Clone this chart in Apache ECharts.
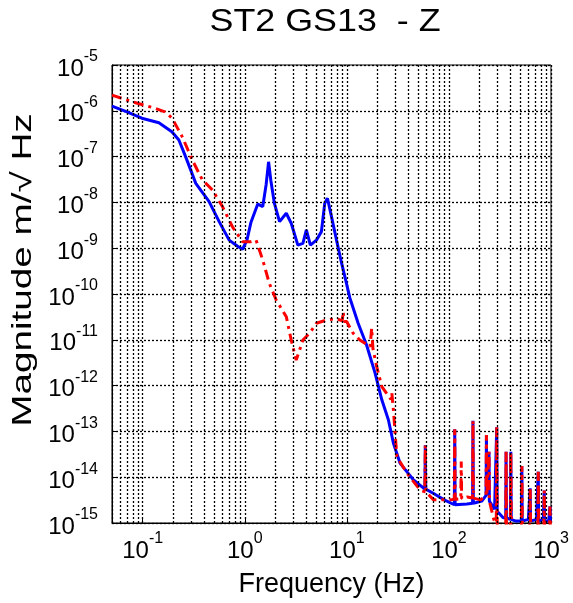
<!DOCTYPE html>
<html>
<head>
<meta charset="utf-8">
<script src="https://cdn.jsdelivr.net/npm/echarts@6/dist/echarts.min.js"></script>
<style>
  html, body { margin: 0; padding: 0; background: #fff; }
  #chart { width: 573px; height: 603px; }
</style>
</head>
<body>
<div id="chart"></div>
<script>
// 蓝线 (实线) 频率 / 幅值
const blueFreq = [
  0.05, 0.07, 0.098, 0.144, 0.193, 0.226, 0.263, 0.331, 0.447, 0.561, 0.703, 0.85, 0.95,
  1.05, 1.15, 1.34, 1.5, 1.62, 1.71, 1.8, 1.95, 2.19, 2.55, 2.85, 3.31, 3.71, 4.01, 4.39,
  5.03, 5.63, 6.07, 6.45, 7.07, 7.92, 8.88, 9.56, 10.7, 12.9, 15.6, 18.9, 22, 25.5, 28.6,
  33.3, 45, 58.1, 58.7, 59.3, 70.8, 90, 113, 114, 115, 150, 170.5, 172, 173.5, 210,
  231, 233, 235, 245, 247, 249, 280, 291, 294, 297, 340, 360, 363, 366, 400, 404, 408,
  450, 513, 518, 523, 600, 619, 625, 631, 720, 743, 750, 757, 840, 851, 859, 867,
  950, 968, 977, 986, 1000
];
const blueMag = [
  1.27e-6, 9.5e-7, 6.9e-7, 5.5e-7, 3.5e-7, 2.3e-7, 1.0e-7, 2.6e-8, 1.04e-8, 3.8e-9, 1.5e-9, 1.1e-9, 9.5e-10,
  1.5e-9, 3.7e-9, 9.2e-9, 8.1e-9, 2.5e-8, 7.7e-8, 3e-8, 9.5e-9, 3.8e-9, 5.8e-9, 3.5e-9, 1.17e-9, 1.28e-9, 2.5e-9, 1.17e-9,
  1.5e-9, 2.3e-9, 9.5e-9, 1.23e-8, 4.9e-9, 1.5e-9, 4.7e-10, 2.4e-10, 8.2e-11, 2.3e-11, 7.7e-12, 1.87e-12, 4.9e-13, 1.8e-13, 5.5e-14,
  2.0e-14, 8.7e-15, 5.5e-15, 5e-14, 5.5e-15, 4.4e-15, 3.2e-15, 2.5e-15, 1.11e-13, 2.5e-15, 2.6e-15, 2.7e-15, 1.71e-13, 2.7e-15, 3e-15,
  4e-15, 8.3e-14, 4e-15, 4e-15, 3.6e-14, 3e-15, 2e-15, 2e-15, 1.23e-13, 1.8e-15, 1.3e-15, 1.3e-15, 3.6e-14, 1.3e-15, 1.2e-15, 3.6e-14, 1.2e-15,
  1.1e-15, 1.1e-15, 1.76e-14, 1.1e-15, 1.2e-15, 1.2e-15, 5.7e-15, 1.1e-15, 1.2e-15, 1.2e-15, 1.32e-14, 1.1e-15, 1.2e-15, 1.2e-15, 5.1e-15, 1.1e-15,
  1.1e-15, 1.1e-15, 2.3e-15, 1.1e-15, 1.1e-15
];

// 红线 (点划线) 频率 / 幅值
const redFreq = [
  0.05, 0.0785, 0.133, 0.165, 0.194, 0.244, 0.306, 0.384, 0.482, 0.604, 0.759, 0.951, 1.15,
  1.29, 1.5, 1.74, 2.03, 2.55, 2.85, 3.19, 3.71, 4.32, 5.03, 6.3, 7.92, 9.0, 9.2, 9.4, 9.94,
  11.5, 13.4, 16.9, 17.5, 18, 19.6, 22, 27, 27.6, 28.6, 30.9, 38.8, 52.4, 58.1, 58.7, 59.3, 70.8,
  103, 113, 114, 115, 130.7, 132, 133.3, 151, 170.5, 172, 173.5, 204, 231, 233, 235, 245, 247, 249,
  276, 291, 294, 297, 360, 363, 366, 400, 404, 408, 513, 518, 523, 619, 625, 631,
  743, 750, 757, 851, 859, 867, 968, 977, 986, 1000
];
const redMag = [
  2.2e-6, 1.58e-6, 1.13e-6, 9.5e-7, 6.9e-7, 2.7e-7, 8.4e-8, 3.1e-8, 1.87e-8, 8.1e-9, 2.9e-9, 1.39e-9, 1.39e-9,
  1.5e-9, 5.5e-10, 1.7e-10, 7.4e-11, 3.2e-11, 9.9e-12, 3.6e-12, 9.9e-12, 1.39e-11, 2.3e-11, 2.7e-11, 2.9e-11, 2.6e-11, 4.1e-11, 2.5e-11, 2.5e-11,
  1.4e-11, 9.9e-12, 7.1e-12, 1.8e-11, 6.5e-12, 2.6e-12, 9.5e-13, 5e-13, 6.8e-13, 2.9e-13, 2.8e-14, 1.22e-14, 5.2e-15, 4.8e-15, 5e-14, 4.8e-15, 3.2e-15,
  3.2e-15, 3.3e-15, 1.11e-13, 3.3e-15, 3.4e-15, 2.2e-14, 3.4e-15, 3.7e-15, 3.5e-15, 1.71e-13, 3.5e-15, 3.2e-15, 4e-15, 8.3e-14, 4e-15, 4e-15, 3.6e-14, 3e-15,
  1.17e-15, 1e-15, 1.23e-13, 8e-16, 8e-16, 3.6e-14, 8e-16, 8e-16, 3.6e-14, 8e-16, 8e-16, 1.76e-14, 8e-16, 8e-16, 5.7e-15, 8e-16,
  8e-16, 1.32e-14, 8e-16, 8e-16, 5.1e-15, 8e-16, 8e-16, 2.3e-15, 8e-16, 8e-16
];

// 坐标范围
const xMin = 0.05, xMax = 1000;
const yMin = 1e-15, yMax = 1e-5;

// 次网格线 (2..9 倍)
const minorLines = (lo, hi, key) => {
  const out = [];
  for (let n = -16; n <= 4; n++) {
    for (let k = 2; k <= 9; k++) {
      const v = k * Math.pow(10, n);
      if (v > lo && v < hi) out.push({ [key]: v });
    }
  }
  return out;
};

const powLabel = (v) => {
  const e = Math.round(Math.log10(v));
  if (Math.abs(Math.log10(v) - e) > 1e-6) return "";
  return "{b|10}{e|" + e + "}";
};

const labelRich = {
  b: { fontSize: 24, fontFamily: "Liberation Sans", color: "#000", lineHeight: 32, verticalAlign: "bottom" },
  e: { fontSize: 16, fontFamily: "Liberation Sans", color: "#000", lineHeight: 16, verticalAlign: "top" },
};

const gridLine = { color: "#000", type: [2, 2], width: 1.3 };

const myChart = echarts.init(document.querySelector("#chart"), null, { renderer: "canvas" });

myChart.setOption({
  animation: false,
  backgroundColor: "#fff",
  grid: {
    left: 112,
    right: 22,
    top: 65,
    bottom: 80,
    show: true,
    borderColor: "#000",
    borderWidth: 1,
  },
  xAxis: {
    type: "log",
    logBase: 10,
    min: xMin,
    max: xMax,
    name: "Frequency (Hz)",
    nameLocation: "middle",
    nameGap: 48,
    nameTextStyle: { fontFamily: "Liberation Sans", fontSize: 27, color: "#000" },
    axisLine: { lineStyle: { color: "#000" } },
    axisTick: { inside: true, length: 6, lineStyle: { color: "#000" } },
    axisLabel: { formatter: powLabel, rich: labelRich, margin: 8, showMinLabel: false },
    splitLine: { show: true, lineStyle: gridLine },
  },
  yAxis: {
    type: "log",
    logBase: 10,
    min: yMin,
    max: yMax,
    splitNumber: 10,
    axisLine: { lineStyle: { color: "#000" } },
    axisTick: { inside: true, length: 6, lineStyle: { color: "#000" } },
    axisLabel: { formatter: powLabel, rich: labelRich, margin: 14 },
    splitLine: { show: true, lineStyle: gridLine },
  },
  graphic: [
    {
      // 标题
      type: "text",
      x: 325,
      y: 22,
      scaleX: 1.12,
      style: {
        text: "ST2 GS13  - Z",
        fontFamily: "Liberation Sans",
        fontSize: 32,
        fill: "#000",
        textAlign: "center",
        textVerticalAlign: "middle",
      },
    },
    {
      // y轴名称
      type: "text",
      x: 23,
      y: 270,
      rotation: Math.PI / 2,
      scaleX: 1.38,
      style: {
        text: "Magnitude m/\u221A Hz",
        fontFamily: "Liberation Sans",
        fontSize: 28,
        fill: "#000",
        textAlign: "center",
        textVerticalAlign: "middle",
      },
    },
  ],
  series: [
    {
      // 网格
      type: "line",
      data: [],
      silent: true,
      z: 1,
      markLine: {
        silent: true,
        symbol: "none",
        label: { show: false },
        lineStyle: gridLine,
        data: [...minorLines(xMin, xMax, "xAxis"), ...minorLines(yMin, yMax, "yAxis")],
      },
    },
    {
      name: "blue",
      type: "line",
      data: blueFreq.map((f, i) => [f, blueMag[i]]),
      showSymbol: false,
      clip: true,
      z: 3,
      lineStyle: { color: "#0000ff", width: 3 },
    },
    {
      name: "red",
      type: "line",
      data: redFreq.map((f, i) => [f, redMag[i]]),
      showSymbol: false,
      clip: true,
      z: 4,
      lineStyle: { color: "#ff0000", width: 3, type: [10, 5, 3, 5] },
    },
  ],
});
</script>
</body>
</html>
